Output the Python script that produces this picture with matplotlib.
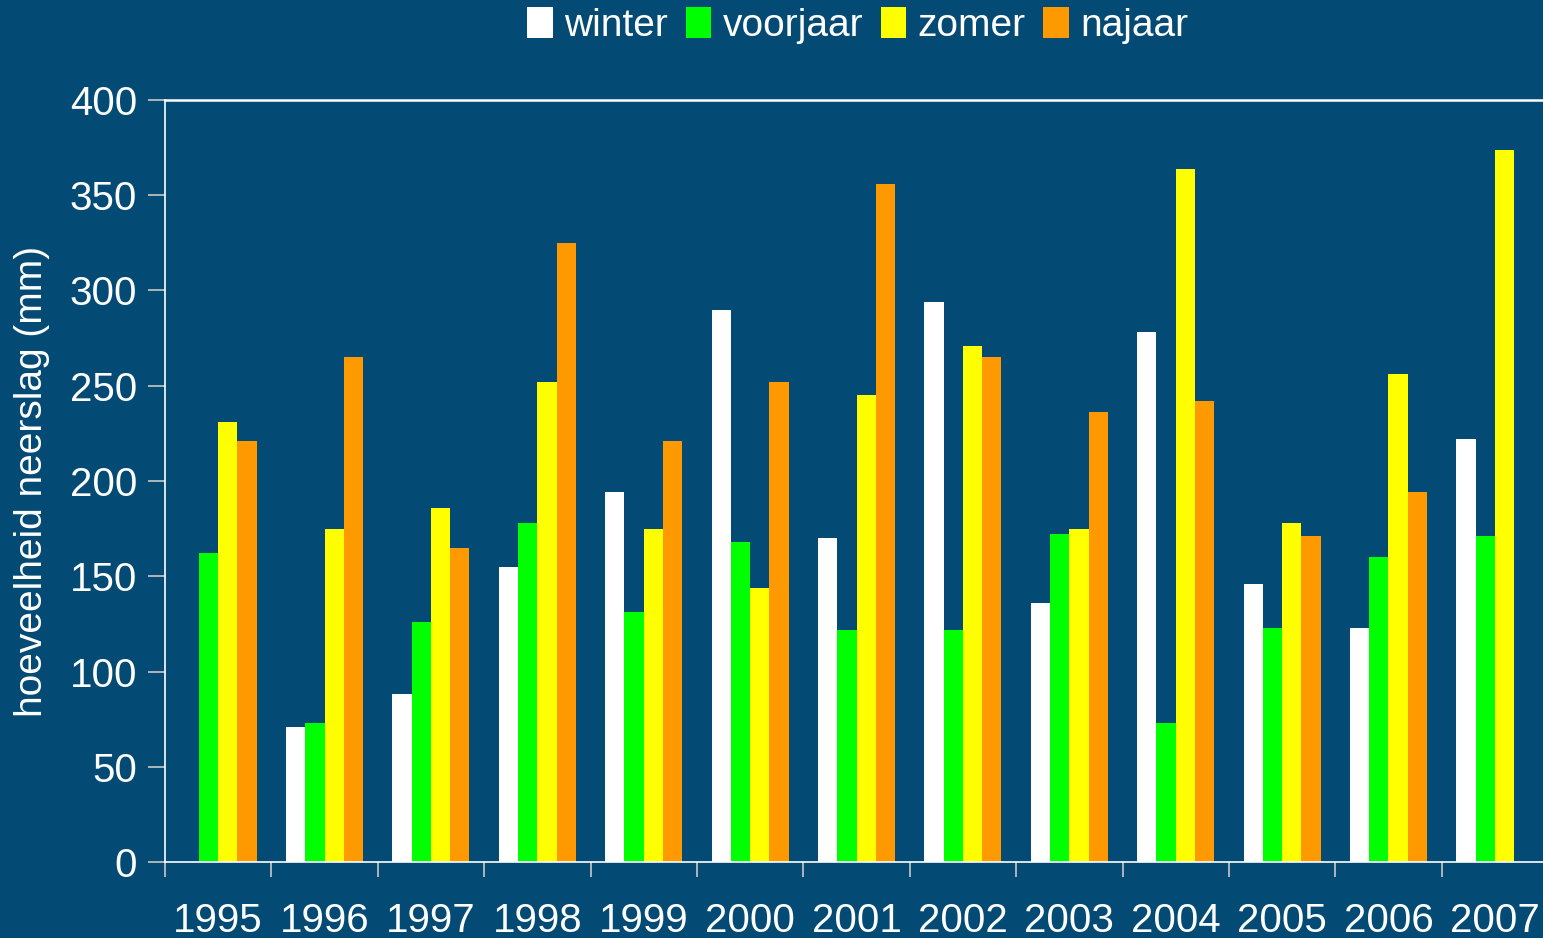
import numpy as np
import matplotlib.pyplot as plt
from matplotlib.patches import Patch

# neerslag per seizoen (mm)
jaren = ['1995', '1996', '1997', '1998', '1999', '2000', '2001',
         '2002', '2003', '2004', '2005', '2006', '2007']
winter = [0, 71, 88, 155, 194, 290, 170, 294, 136, 278, 146, 123, 222]
voorjaar = [162, 73, 126, 178, 131, 168, 122, 122, 172, 73, 123, 160, 171]
zomer = [231, 175, 186, 252, 175, 144, 245, 271, 175, 364, 178, 256, 374]
najaar = [221, 265, 165, 325, 221, 252, 356, 265, 236, 242, 171, 194, 0]

seizoenen = ['winter', 'voorjaar', 'zomer', 'najaar']
kleuren = ['#ffffff', '#00ff00', '#ffff00', '#ff9900']
bgcol = '#034b74'

plt.rcParams['font.family'] = ['Liberation Sans', 'DejaVu Sans']

fig = plt.figure(figsize=(15.43, 9.38), dpi=100)
fig.set_facecolor(bgcol)
ax = fig.add_axes([0.1069, 0.081, 0.8964, 0.8124])
ax.set_facecolor(bgcol)

x = np.arange(len(jaren))
w = 0.181
for i, (naam, vals) in enumerate(zip(seizoenen, [winter, voorjaar, zomer, najaar])):
    ax.bar(x + (i - 1.5) * w, vals, width=w, color=kleuren[i], label=naam, zorder=2)

ax.set_xlim(-0.5, len(jaren) - 0.5)
ax.set_ylim(0, 400)
ax.set_yticks(range(0, 401, 50))
ax.axhline(400, color='white', lw=1.8, clip_on=False)

# spines
for s in ['right', 'top']:
    ax.spines[s].set_visible(False)
ax.spines['left'].set_color('white')
ax.spines['bottom'].set_color('white')
ax.spines['left'].set_linewidth(1.2)
ax.spines['bottom'].set_linewidth(1.2)

# x ticks op de grenzen, labels in het midden
ax.set_xticks(np.arange(-0.5, len(jaren), 1.0))
ax.set_xticklabels([])
ax.set_xticks(x, minor=True)
ax.set_xticklabels(jaren, minor=True)
ax.tick_params(axis='x', which='major', length=11, color='#c8c8c8', width=1.2)
ax.tick_params(axis='x', which='minor', length=0, pad=29, labelsize=29, labelcolor='white')
ax.tick_params(axis='y', length=12, color='#c8c8c8', width=1.2, labelsize=29,
               labelcolor='white', pad=8)

ax.set_ylabel('hoeveelheid neerslag (mm)', fontsize=28, color='white', labelpad=14)

handles = [Patch(facecolor=c, edgecolor='none', label=n) for n, c in zip(seizoenen, kleuren)]
fig.legend(handles=handles, loc='center', bbox_to_anchor=(0.556, 0.973), ncol=4,
           frameon=False, fontsize=28, labelcolor='white', handlelength=0.65,
           handleheight=0.85, handletextpad=0.3, columnspacing=0.45)

plt.savefig('out.png', dpi=100, facecolor=bgcol)
